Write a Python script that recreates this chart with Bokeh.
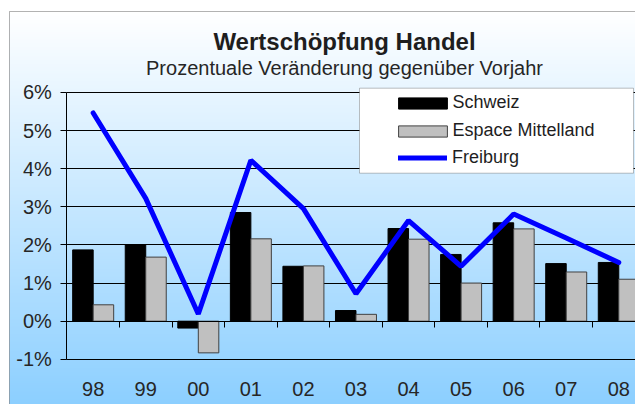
import numpy as np
from bokeh.plotting import figure
from bokeh.models import (Range1d, LinearAxis, FixedTicker, Grid, Legend, LegendItem,
                          Label, BoxAnnotation)
from bokeh.embed import file_html
from bokeh.resources import INLINE

# ---- data ----
years = ["98", "99", "00", "01", "02", "03", "04", "05", "06", "07", "08"]
schweiz = [1.87, 2.00, -0.18, 2.85, 1.44, 0.28, 2.43, 1.75, 2.58, 1.51, 1.54]
espace = [0.43, 1.68, -0.83, 2.16, 1.45, 0.18, 2.15, 1.00, 2.42, 1.29, 1.10]
freiburg = [5.46, 3.22, 0.19, 4.22, 2.95, 0.72, 2.64, 1.44, 2.81, 2.18, 1.54]
y_ticks = [-1, 0, 1, 2, 3, 4, 5, 6]
y_tick_labels = ["-1%", "0%", "1%", "2%", "3%", "4%", "5%", "6%"]
title_text = "Wertschöpfung Handel"
subtitle_text = "Prozentuale Veränderung gegenüber Vorjahr"
series_names = ["Schweiz", "Espace Mittelland", "Freiburg"]

# ---- geometry (canvas pixels) ----
W, H = 635, 404
CAT_W = 52.56          # px per category
X_LEFT = 66.4          # canvas x of first category's left edge
PX_PER_PCT = 38.14
Y_ZERO = 320.7         # canvas y of 0 %

def px2x(cx):
    return -0.5 + (cx - X_LEFT) / CAT_W

def px2y(cy):
    return (Y_ZERO - cy) / PX_PER_PCT

x0, x1 = px2x(0), px2x(W)
y0, y1 = px2y(H), px2y(0)

p = figure(width=W, height=H, x_range=Range1d(x0, x1), y_range=Range1d(y0, y1),
           x_axis_type=None, y_axis_type=None, toolbar_location=None,
           output_backend="svg", min_border=0)
p.outline_line_color = None
p.background_fill_color = "white"
p.border_fill_color = "white"

# ---- gradient background ----
top_c = np.array([255, 255, 255], dtype=float)
bot_c = np.array([140, 207, 255], dtype=float)
n_rows = 400
g_top_cy, g_bot_cy = 11.0, float(H)
img = np.empty((n_rows, 2), dtype=np.uint32)
view = img.view(dtype=np.uint8).reshape((n_rows, 2, 4))
for i in range(n_rows):
    frac = 1.0 - (i + 0.5) / n_rows   # row 0 at bottom
    c = top_c + (bot_c - top_c) * frac
    view[i, :, 0] = int(round(c[0]))
    view[i, :, 1] = int(round(c[1]))
    view[i, :, 2] = int(round(c[2]))
    view[i, :, 3] = 255
gx = px2x(9)
gy_top = px2y(g_top_cy)
gy_bot = px2y(g_bot_cy)
p.image_rgba(image=[img], x=gx, y=gy_bot, dw=x1 - gx + 1, dh=gy_top - gy_bot, level="image")

# outer chart border
p.add_layout(BoxAnnotation(left=px2x(9), right=x1 + 2, top=px2y(11), bottom=y0 - 2,
                           fill_color=None, line_color="black", line_width=1, level="underlay"))

# ---- grid ----
grid = Grid(dimension=1, ticker=FixedTicker(ticks=y_ticks), grid_line_color="black",
            grid_line_width=1, cross_bounds=(-0.5, x1 + 1))
p.add_layout(grid)

# ---- bars & line ----
xs = np.arange(len(years))
bw = 0.39
r_ch = p.vbar(x=xs - bw / 2, top=schweiz, bottom=0, width=bw,
              fill_color="black", line_color="black", line_width=1)
r_em = p.vbar(x=xs + bw / 2, top=espace, bottom=0, width=bw,
              fill_color="#c0c0c0", line_color="#404040", line_width=1)
r_fr = p.line(x=xs, y=freiburg, line_color="#0000ff", line_width=5, line_cap="round")

# ---- axes ----
font = "Liberation Sans"
yax = LinearAxis(fixed_location=-0.5, ticker=FixedTicker(ticks=y_ticks), bounds=(-1, 6),
                 major_label_overrides={t: l for t, l in zip(y_ticks, y_tick_labels)},
                 major_tick_out=6, major_tick_in=0, minor_tick_line_color=None,
                 axis_line_color="black", major_tick_line_color="black",
                 major_label_standoff=9, major_label_text_font=font,
                 major_label_text_font_size="20px", major_label_text_color="#262626")
p.add_layout(yax, "left")

bounds_ticks = [i - 0.5 for i in range(len(years) + 1)]
xax0 = LinearAxis(fixed_location=0, ticker=FixedTicker(ticks=bounds_ticks),
                  bounds=(-0.5, x1 + 1), major_tick_out=6, major_tick_in=0,
                  minor_tick_line_color=None, axis_line_color="black",
                  major_tick_line_color="black", major_label_text_color=None,
                  major_label_text_font_size="1px")
p.add_layout(xax0, "below")

xax = LinearAxis(fixed_location=px2y(381), ticker=FixedTicker(ticks=list(xs)),
                 major_label_overrides={int(i): y for i, y in zip(xs, years)},
                 major_tick_out=0, major_tick_in=0, major_tick_line_color=None,
                 minor_tick_line_color=None, axis_line_color=None,
                 major_label_standoff=0, major_label_text_font=font,
                 major_label_text_font_size="20px", major_label_text_color="#262626")
p.add_layout(xax, "below")

# ---- titles ----
p.add_layout(Label(x=344, y=H - 41, x_units="screen", y_units="screen", text=title_text,
                   text_font=font, text_font_size="24px", text_font_style="bold",
                   text_color="#1e1e1e", text_align="center", text_baseline="alphabetic"))
p.add_layout(Label(x=344, y=H - 67.7, x_units="screen", y_units="screen", text=subtitle_text,
                   text_font=font, text_font_size="20px", text_color="#262626",
                   text_align="center", text_baseline="alphabetic"))

# ---- legend ----
p.add_layout(BoxAnnotation(left=px2x(359), right=px2x(633), top=px2y(87.7), bottom=px2y(172.7),
                           fill_color="white", fill_alpha=1, line_color="#303030",
                           line_width=1, level="annotation"))
leg_common = dict(margin=0, padding=0, background_fill_alpha=0, border_line_color=None,
                  label_text_font=font, label_text_font_size="18px",
                  label_text_color="#1e1e1e", label_height=21)
legend_bars = Legend(items=[LegendItem(label=series_names[0], renderers=[r_ch]),
                            LegendItem(label=series_names[1], renderers=[r_em])],
                     location=(391.5, H - 141), spacing=7, glyph_width=61,
                     glyph_height=14, label_standoff=0, **leg_common)
legend_line = Legend(items=[LegendItem(label=series_names[2], renderers=[r_fr])],
                     location=(398, H - 167.8), glyph_width=49, glyph_height=11,
                     label_standoff=5, **leg_common)
p.add_layout(legend_bars)
p.add_layout(legend_line)

open("out.html", "w").write(file_html(p, INLINE))
